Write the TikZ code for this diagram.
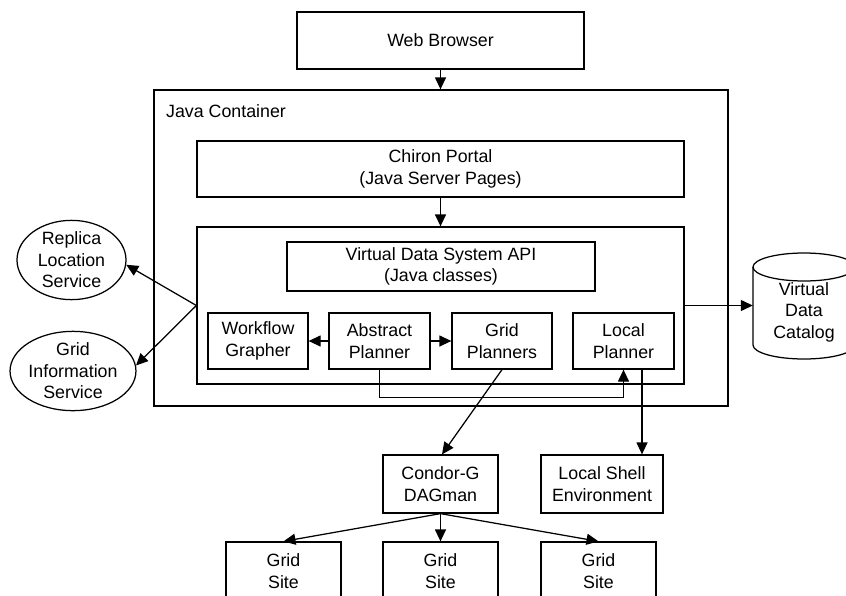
\documentclass[tikz,border=0pt]{standalone}
\usepackage{fontspec}
\setmainfont{Liberation Sans}
\usetikzlibrary{arrows.meta, shapes.geometric}
\definecolor{diagramink}{HTML}{000000}

\begin{document}
\begin{tikzpicture}[x=1pt, y=-1pt, >={Triangle[length=12pt, width=11pt]},
                    every node/.style={diagramink, font=\fontsize{17.8}{21.5}\selectfont, align=center},
                    box/.style={draw=diagramink, line width=1.25pt, rectangle, inner sep=0pt},
                    oval/.style={draw=diagramink, line width=1.25pt, ellipse, inner sep=0pt},
                    link/.style={draw=diagramink, line width=1.25pt, ->}]

  %% 畫面範圍
  \useasboundingbox (0,0) rectangle (846,595);
  \clip (0,0) rectangle (846,595);

  %% ==== 上方: 瀏覽器與 Java 容器 ==========================================
  \node[box, minimum width=287pt, minimum height=57pt] (browser) at (440.5,40.5) {Web Browser};
  \node[box, minimum width=574pt, minimum height=316pt] (container) at (441,248) {};
  \node[anchor=base west, inner sep=0pt] (containerlabel) at (166,117.5) {Java Container};

  %% 入口網站與虛擬資料系統
  \node[box, minimum width=487pt, minimum height=56pt] (portal) at (440.5,169) {Chiron Portal\\(Java Server Pages)};
  \node[box, minimum width=487pt, minimum height=157pt] (vds) at (440.5,305.5) {};
  \node[box, minimum width=308pt, minimum height=49pt] (api) at (441,266.5) {Virtual Data System API\\(Java classes)};

  %% 四個規劃元件
  \node[box, minimum width=100pt, minimum height=56pt] (grapher)  at (258,341)   {Workflow\\Grapher};
  \node[box, minimum width=101pt, minimum height=56pt] (abstract) at (379.5,341) {Abstract\\Planner};
  \node[box, minimum width=100pt, minimum height=56pt] (gridpl)   at (502,341)   {Grid\\Planners};
  \node[box, minimum width=101pt, minimum height=56pt] (localpl)  at (623.5,341) {Local\\Planner};

  %% ==== 左側: 兩個服務 ====================================================
  \node[oval, minimum width=109pt, minimum height=76pt] (replica) at (71.5,260) {Replica\\Location\\Service};
  \node[oval, minimum width=124pt, minimum height=78pt] (gis)     at (73,371)   {Grid\\Information\\Service};

  %% ==== 右側: 資料目錄圓柱 ================================================
  \draw[diagramink, line width=1.25pt] (804,267) ellipse [x radius=51pt, y radius=14pt];
  \draw[diagramink, line width=1.25pt] (753,267) -- (753,345)
    arc[start angle=180, end angle=360, x radius=51pt, y radius=14pt] -- (855,267);
  \node[inner sep=0pt, minimum width=102pt] (catalog) at (804,312) {Virtual\\Data\\Catalog};

  %% ==== 下方: 執行環境 ====================================================
  \node[box, minimum width=115pt, minimum height=58pt] (condor) at (440.5,484) {Condor-G\\DAGman};
  \node[box, minimum width=122pt, minimum height=58pt] (shell)  at (602,484)   {Local Shell\\Environment};
  \foreach \sx/\sname in {283.5/siteA, 440.5/siteB, 598.5/siteC}
    \node[box, minimum width=115pt, minimum height=58pt] (\sname) at (\sx,571) {Grid\\Site};

  %% ==== 連線 ==============================================================
  \draw[link] (browser.south) -- (browser.south |- container.north);
  \draw[link] (portal.south) -- (vds.north);
  \draw[link] (abstract.west) -- (grapher.east);
  \draw[link] (abstract.east) -- (gridpl.west);
  \draw[link] (abstract.south) -- ++(0,28) -| (localpl.south);
  \draw[link] (vds.west) -- (replica.-5);
  \draw[link] (vds.west) -- (gis.5);
  \draw[link] (vds.east) -- (vds.east -| catalog.west);
  \draw[link] (gridpl.south) -- ([xshift=1.5pt]condor.north);
  \draw[link] ([xshift=18.5pt]localpl.south) -- ([xshift=18.5pt]localpl.south |- shell.north);
  \foreach \sname in {siteA, siteB, siteC}
    \draw[link] (condor.south) -- (\sname.north);

\end{tikzpicture}
\end{document}
